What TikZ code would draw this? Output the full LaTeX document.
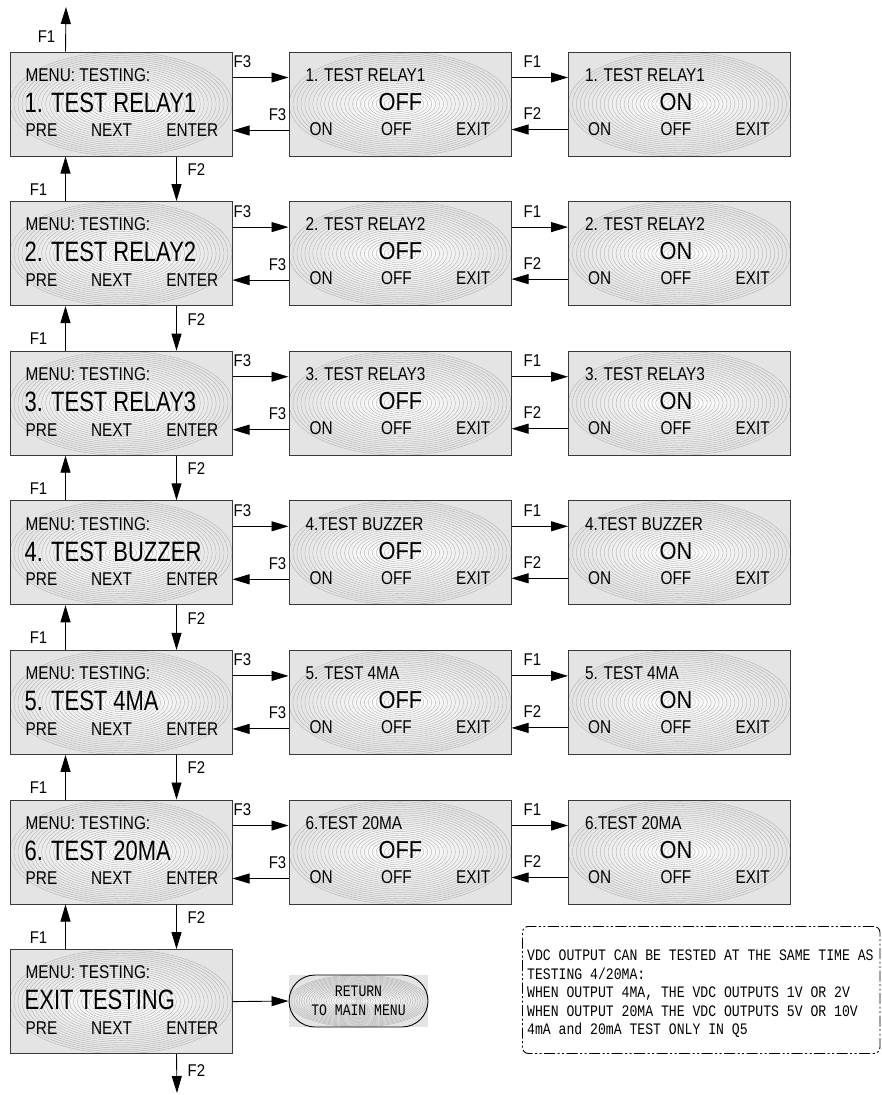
\documentclass[tikz,border=0pt]{standalone}
\usepackage{fontspec}
\setmainfont{Liberation Sans}
\newfontfamily\monof{Liberation Mono}[FakeStretch=0.82]
\usetikzlibrary{arrows.meta,calc}
\definecolor{lcdgray}{HTML}{E4E4E4}
\definecolor{ringc}{HTML}{A6A6A6}
\definecolor{edgec}{HTML}{3A3A3A}
\newcommand\txM[1]{\scalebox{0.83}[1]{\fontsize{18.5}{20}\selectfont #1}}
\newcommand\txB[1]{\scalebox{0.785}[1]{\fontsize{28}{30}\selectfont #1}}
\newcommand\txO[1]{\scalebox{0.89}[1]{\fontsize{24.5}{27}\selectfont #1}}
\newcommand\txL[1]{\scalebox{0.88}[1]{\fontsize{17}{19}\selectfont #1}}
\newcommand\lcdNote{\monof\fontsize{16}{18.5}\selectfont}
\tikzset{
  pat/.style 2 args={path picture={
    \fill[lcdgray] (path picture bounding box.south west) rectangle (path picture bounding box.north east);
    \shade[inner color=white, outer color=lcdgray] (path picture bounding box.center) ellipse [x radius=#1, y radius=#2];
    \foreach \k in {1,...,28}{\draw[ringc, line width=0.3pt, solid] (path picture bounding box.center) ellipse [x radius={#1*\k/28}, y radius={#2*\k/28}];}
  }},
  lcd/.style={draw=edgec, line width=1pt, rectangle, minimum width=222pt, minimum height=104pt, inner sep=0pt, pat={111pt}{52pt}},
  txt/.style={inner sep=0pt, text=black},
  arr/.style={-{Triangle[length=17pt,width=10pt]}, line width=0.9pt},
  notebox/.style={draw, line width=0.9pt, dash pattern=on 11pt off 2.5pt on 2pt off 2.5pt on 2pt off 2.5pt, rounded corners=6pt, inner sep=0pt},
}
\begin{document}
\begin{tikzpicture}[x=1pt,y=-1pt]
\useasboundingbox (0,0) rectangle (881,1095);
% left column
\foreach \r/\bigtxt in {1/{1. TEST RELAY1},2/{2. TEST RELAY2},3/{3. TEST RELAY3},4/{4. TEST BUZZER},5/{5. TEST 4MA},6/{6. TEST 20MA},7/{EXIT TESTING}}{
  \pgfmathsetmacro\cy{104+149.6*(\r-1)}
  \node[lcd] (L\r) at (121,\cy) {};
  \node[txt, anchor=base west] (La\r) at ($(L\r.north west)+(16,29.7)$) {\txM{MENU: TESTING:}};
  \node[txt, anchor=base west] (Lb\r) at ($(L\r.north west)+(15,60.7)$) {\txB{\bigtxt}};
  \node[txt, anchor=base west] (Lc\r) at ($(L\r.north west)+(16,85.3)$) {\txM{PRE}};
  \node[txt, anchor=base] (Ld\r) at ($(L\r.north west)+(102,85.3)$) {\txM{NEXT}};
  \node[txt, anchor=base east] (Le\r) at ($(L\r.north east)+(-14,85.3)$) {\txM{ENTER}};
}
% middle and right columns
\foreach \r/\ttltxt in {1/{1. TEST RELAY1},2/{2. TEST RELAY2},3/{3. TEST RELAY3},4/{4.TEST BUZZER},5/{5. TEST 4MA},6/{6.TEST 20MA}}{
  \pgfmathsetmacro\cy{104+149.6*(\r-1)}
  \node[lcd] (M\r) at (400,\cy) {};
  \node[lcd] (R\r) at (679.5,\cy) {};
  \node[txt, anchor=base west] (Ma\r) at ($(M\r.north west)+(17,29.7)$) {\txM{\ttltxt}};
  \node[txt, anchor=base] (Mb\r) at ($(M\r.north west)+(112,58.7)$) {\txO{OFF}};
  \node[txt, anchor=base west] (Mc\r) at ($(M\r.north west)+(21,83.7)$) {\txM{ON}};
  \node[txt, anchor=base] (Md\r) at ($(M\r.north west)+(108,83.7)$) {\txM{OFF}};
  \node[txt, anchor=base east] (Me\r) at ($(M\r.north east)+(-21,83.7)$) {\txM{EXIT}};
  \node[txt, anchor=base west] (Ra\r) at ($(R\r.north west)+(17,29.7)$) {\txM{\ttltxt}};
  \node[txt, anchor=base] (Rb\r) at ($(R\r.north west)+(108,58.7)$) {\txO{ON}};
  \node[txt, anchor=base west] (Rc\r) at ($(R\r.north west)+(20,83.7)$) {\txM{ON}};
  \node[txt, anchor=base] (Rd\r) at ($(R\r.north west)+(108,83.7)$) {\txM{OFF}};
  \node[txt, anchor=base east] (Re\r) at ($(R\r.north east)+(-21,83.7)$) {\txM{EXIT}};
  % horizontal connectors
  \draw[arr] ($(L\r.north east)+(0,26)$) -- ($(M\r.north west)+(0,26)$);
  \node[txt, anchor=base west] at ($(L\r.north east)+(1,16)$) {\txL{F3}};
  \draw[arr] ($(M\r.north west)+(0,79)$) -- ($(L\r.north east)+(0,79)$);
  \node[txt, anchor=base east] at ($(M\r.north west)+(-2,69)$) {\txL{F3}};
  \draw[arr] ($(M\r.north east)+(0,26)$) -- ($(R\r.north west)+(0,26)$);
  \node[txt, anchor=base west] at ($(M\r.north east)+(12,16)$) {\txL{F1}};
  \draw[arr] ($(R\r.north west)+(0,78)$) -- ($(M\r.north east)+(0,78)$);
  \node[txt, anchor=base west] at ($(M\r.north east)+(12,68)$) {\txL{F2}};
}
% vertical connectors
\coordinate (topend) at (66,7);
\coordinate (botend) at (177,1093);
\draw[arr] ($(L1.north west)+(56,0)$) -- (topend);
\node[txt, anchor=base east] at ($(L1.north west)+(46,-9)$) {\txL{F1}};
\foreach \r [evaluate=\r as \p using int(\r-1)] in {2,...,7}{
  \draw[arr] ($(L\r.north west)+(56,0)$) -- ($(L\p.south west)+(56,0)$);
  \node[txt, anchor=base east] at ($(L\r.north west)+(38,-6)$) {\txL{F1}};
  \draw[arr] ($(L\p.south west)+(167,0)$) -- ($(L\r.north west)+(167,0)$);
  \node[txt, anchor=base west] at ($(L\p.south west)+(178,19)$) {\txL{F2}};
}
\draw[arr] ($(L7.south west)+(167,0)$) -- (botend);
\node[txt, anchor=base west] at ($(L7.south west)+(178,22)$) {\txL{F2}};
% return node
\node[fill=lcdgray, minimum width=139pt, minimum height=52pt, inner sep=0pt] (retbg) at (358.5,1001) {};
\node[draw=black, line width=0.9pt, rounded corners=26pt, minimum width=139pt, minimum height=52pt, inner sep=0pt, pat={69.5pt}{26pt}] (ret) at (358.5,1001) {};
\node[txt, font=\lcdNote, align=center] (rettxt) at (ret.center) {RETURN\\TO MAIN MENU};
\draw[arr] (L7.east) -- (ret.west);
% note
\node[notebox, minimum width=357.5pt, minimum height=127pt, anchor=north west] (note) at (522,926) {};
\node[txt, font=\lcdNote, align=left, anchor=north west] (notetxt) at ($(note.north west)+(5,24)$) {VDC OUTPUT CAN BE TESTED AT THE SAME TIME AS\\TESTING 4/20MA:\\WHEN OUTPUT 4MA, THE VDC OUTPUTS 1V OR 2V\\WHEN OUTPUT 20MA THE VDC OUTPUTS 5V OR 10V\\4mA and 20mA TEST ONLY IN Q5};
\end{tikzpicture}
\end{document}
